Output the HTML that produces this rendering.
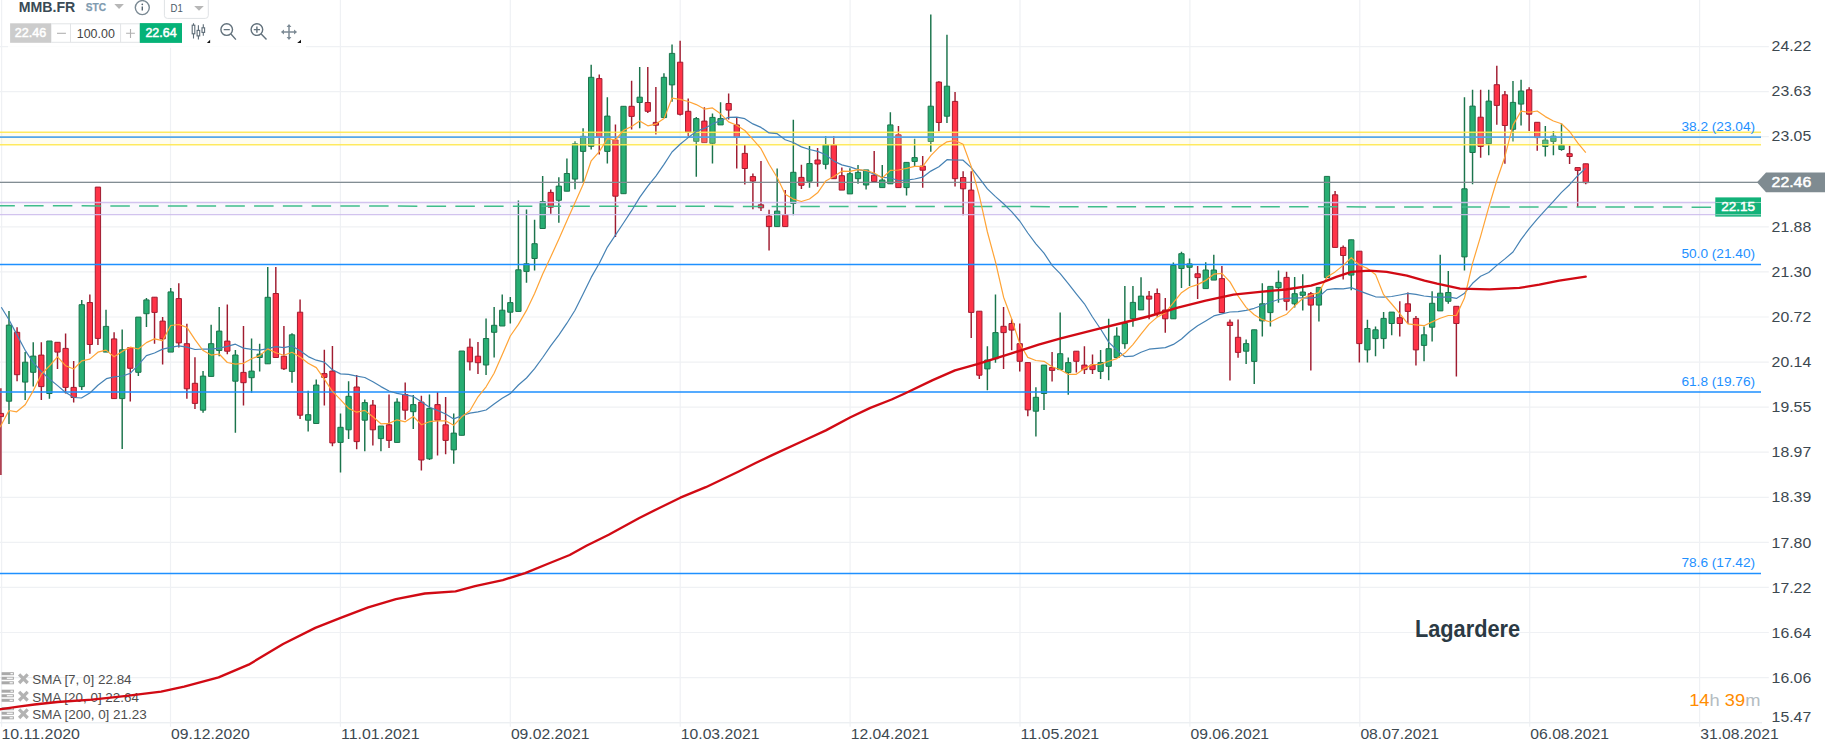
<!DOCTYPE html>
<html><head><meta charset="utf-8"><title>MMB.FR Lagardere chart</title>
<style>html,body{margin:0;padding:0;background:#fff;overflow:hidden}svg{display:block}</style></head>
<body>
<svg width="1825" height="754" viewBox="0 0 1825 754" font-family="'Liberation Sans', Arial, sans-serif">
<rect width="1825" height="754" fill="#fff"/>
<path d="M0 46.6H1768.8 M0 91.7H1768.8 M0 136.7H1768.8 M0 181.8H1768.8 M0 226.9H1768.8 M0 271.9H1768.8 M0 317.0H1768.8 M0 362.1H1768.8 M0 407.2H1768.8 M0 452.2H1768.8 M0 497.3H1768.8 M0 542.4H1768.8 M0 587.4H1768.8 M0 632.5H1768.8 M0 677.6H1768.8 M0 722.6H1762 M1.6 0V726.7 M170.5 0V726.7 M340.4 0V726.7 M510.3 0V726.7 M680.2 0V726.7 M850.1 0V726.7 M1020.0 0V726.7 M1189.9 0V726.7 M1359.8 0V726.7 M1529.7 0V726.7 M1699.6 0V726.7" stroke="#eff1f4" stroke-width="1.2" fill="none"/>
<path d="M0 722.65H1762" stroke="#eceff2" stroke-width="1.3"/>
<rect x="1.6" y="672.20" width="12.3" height="3" fill="#a9a9a9"/>
<rect x="10.5" y="673.10" width="2.4" height="1.2" fill="#fff"/>
<rect x="1.6" y="676.75" width="12.3" height="3" fill="#a9a9a9"/>
<rect x="6.8" y="677.65" width="6.0" height="1.2" fill="#fff"/>
<rect x="1.6" y="681.30" width="12.3" height="3" fill="#a9a9a9"/>
<rect x="9.6" y="682.20" width="3.2" height="1.2" fill="#fff"/>
<path d="M19.099999999999998 674.4000000000001L27.7 683.0M27.7 674.4000000000001L19.099999999999998 683.0" stroke="#b3b3b3" stroke-width="3.2" fill="none"/>
<text x="32.3" y="684" font-size="12.4" fill="#4d4d4d" textLength="99.3" lengthAdjust="spacingAndGlyphs">SMA [7, 0] 22.84</text>
<rect x="1.6" y="689.70" width="12.3" height="3" fill="#a9a9a9"/>
<rect x="10.5" y="690.60" width="2.4" height="1.2" fill="#fff"/>
<rect x="1.6" y="694.25" width="12.3" height="3" fill="#a9a9a9"/>
<rect x="6.8" y="695.15" width="6.0" height="1.2" fill="#fff"/>
<rect x="1.6" y="698.80" width="12.3" height="3" fill="#a9a9a9"/>
<rect x="9.6" y="699.70" width="3.2" height="1.2" fill="#fff"/>
<path d="M19.099999999999998 691.9000000000001L27.7 700.5M27.7 691.9000000000001L19.099999999999998 700.5" stroke="#b3b3b3" stroke-width="3.2" fill="none"/>
<text x="32.3" y="701.5" font-size="12.4" fill="#4d4d4d" textLength="106.6" lengthAdjust="spacingAndGlyphs">SMA [20, 0] 22.64</text>
<rect x="1.6" y="707.20" width="12.3" height="3" fill="#a9a9a9"/>
<rect x="10.5" y="708.10" width="2.4" height="1.2" fill="#fff"/>
<rect x="1.6" y="711.75" width="12.3" height="3" fill="#a9a9a9"/>
<rect x="6.8" y="712.65" width="6.0" height="1.2" fill="#fff"/>
<rect x="1.6" y="716.30" width="12.3" height="3" fill="#a9a9a9"/>
<rect x="9.6" y="717.20" width="3.2" height="1.2" fill="#fff"/>
<path d="M19.099999999999998 709.4000000000001L27.7 718.0M27.7 709.4000000000001L19.099999999999998 718.0" stroke="#b3b3b3" stroke-width="3.2" fill="none"/>
<text x="32.3" y="719" font-size="12.4" fill="#4d4d4d" textLength="114.5" lengthAdjust="spacingAndGlyphs">SMA [200, 0] 21.23</text>
<path d="M8.99 311.0V424.0M25.16 352.1V399.9M33.24 342.3V386.6M49.42 341.0V398.8M81.76 299.9V390.1M106.02 309.7V352.1M122.19 329.6V449.0M138.36 317.1V376.0M146.45 298.0V327.0M170.71 288.0V352.1M203.05 371.1V412.7M211.14 324.8V376.4M219.22 307.1V356.2M235.39 349.9V432.8M251.57 338.4V392.8M259.65 343.7V371.4M267.74 267.1V363.8M292.00 333.3V382.7M308.17 390.8V431.6M316.25 379.4V423.5M340.51 413.4V472.6M348.60 381.2V439.1M364.77 399.6V451.2M380.94 426.0V451.2M397.11 398.3V442.4M413.29 395.0V429.0M429.46 394.5V460.0M453.72 413.4V463.8M461.80 351.0V435.3M486.06 318.5V375.0M494.15 307.1V357.5M502.23 294.5V326.0M510.32 297.1V323.5M518.40 200.6V311.4M526.49 209.6V282.7M534.58 219.7V270.6M542.66 176.1V228.5M558.83 177.3V222.7M566.92 158.4V191.2M575.01 141.3V189.2M583.09 128.2V182.4M591.18 64.7V149.6M607.35 97.2V163.5M623.52 106.3V193.7M639.69 67.0V128.2M663.95 73.3V117.6M672.04 44.6V101.8M696.30 116.9V176.8M712.47 113.6V163.5M720.55 102.3V124.9M777.16 168.6V226.6M793.33 119.7V215.2M809.50 145.9V187.8M825.67 136.0V169.3M849.93 168.2V193.9M858.02 164.9V183.8M866.10 169.9V189.6M882.27 164.9V187.6M890.36 112.3V183.8M906.53 162.4V195.4M914.62 138.7V166.9M930.79 14.5V151.8M946.96 34.8V123.1M987.39 346.2V390.3M995.48 294.5V362.8M1035.91 387.2V436.4M1043.99 365.1V409.9M1060.17 312.4V369.6M1068.25 357.5V394.8M1100.60 350.0V378.9M1108.68 318.7V380.2M1116.77 327.3V357.5M1124.85 286.0V348.7M1132.94 286.0V326.8M1141.03 277.2V309.9M1173.37 262.5V318.8M1181.46 251.7V288.0M1189.54 258.4V286.0M1205.71 262.2V288.6M1213.80 254.7V280.1M1246.14 339.6V364.0M1254.23 329.8V384.1M1262.32 283.2V336.6M1270.40 286.4V326.5M1278.49 270.6V302.8M1294.66 276.9V307.6M1302.75 274.3V310.4M1318.92 287.4V321.4M1327.00 176.4V277.6M1351.26 239.8V290.2M1367.43 319.7V362.5M1375.52 326.5V356.2M1383.61 312.1V348.7M1391.69 312.1V335.3M1424.04 326.5V361.2M1432.12 291.2V341.6M1440.21 254.7V310.9M1448.29 271.1V303.8M1464.47 97.3V270.4M1472.55 89.8V184.2M1488.72 89.8V155.3M1512.98 80.9V141.4M1521.07 79.7V125.5M1545.33 126.0V156.5M1553.41 131.1V155.3M1561.50 123.5V150.7" stroke="#1b744c" stroke-width="1.45" fill="none"/>
<path d="M0.90 388.2V475.0M17.07 327.2V381.3M41.33 342.3V399.9M57.50 342.3V368.9M65.59 333.6V393.5M73.67 360.9V402.5M89.85 294.6V353.7M97.93 187.1V345.0M114.10 332.3V398.6M130.28 347.6V401.5M154.53 297.2V343.7M162.62 317.1V364.4M178.79 283.2V347.6M186.88 323.8V398.8M194.96 357.2V409.0M227.31 304.6V354.2M243.48 326.0V405.4M275.82 267.1V357.5M283.91 326.0V370.1M300.08 299.6V419.0M324.34 349.7V405.4M332.43 345.9V446.2M356.68 374.9V449.2M372.86 400.1V445.4M389.03 394.5V447.9M405.20 382.4V419.7M421.37 395.8V470.6M437.54 392.0V455.5M445.63 397.1V454.2M469.89 338.4V370.6M477.97 342.0V374.1M550.75 189.4V213.8M599.26 74.5V154.6M615.44 124.4V237.1M631.61 80.8V129.5M647.78 67.0V113.1M655.87 87.1V134.5M680.12 40.8V115.6M688.21 98.5V136.3M704.38 107.3V142.6M728.64 93.4V119.4M736.73 118.1V168.5M744.81 145.1V184.4M752.90 173.5V209.3M760.98 161.0V211.1M769.07 209.7V250.5M785.24 190.0V226.6M801.41 164.8V189.0M817.59 148.0V186.8M833.76 135.9V178.7M841.84 167.4V190.1M874.19 151.0V181.5M898.45 126.0V187.6M922.70 156.1V187.8M938.88 81.2V131.2M955.05 92.1V186.5M963.13 171.2V215.3M971.22 171.2V338.1M979.31 311.2V378.9M1003.56 307.1V368.9M1011.65 319.2V350.2M1019.74 323.5V371.4M1027.82 362.6V416.2M1052.08 352.0V381.4M1076.34 351.2V372.6M1084.42 346.2V373.9M1092.51 354.5V373.9M1149.11 291.0V319.2M1157.20 288.5V316.7M1165.28 298.0V332.7M1197.63 266.1V299.0M1221.89 266.0V312.5M1229.97 319.4V380.4M1238.06 319.4V357.8M1286.57 271.8V310.4M1310.83 292.0V370.6M1335.09 191.0V247.4M1343.18 245.4V279.4M1359.35 251.2V362.5M1399.78 301.3V336.6M1407.86 292.5V324.0M1415.95 315.9V365.5M1456.38 306.3V376.4M1480.64 89.8V157.8M1496.81 65.8V124.8M1504.90 91.0V163.8M1529.15 87.2V131.1M1537.24 122.3V150.7M1569.58 145.7V164.1M1577.67 167.6V206.9M1585.76 163.8V184.2" stroke="#a01c30" stroke-width="1.45" fill="none"/>
<path d="M6.34 325.1h5.3v76.1h-5.3zM22.51 362.2h5.3v19.9h-5.3zM30.59 356.1h5.3v16.2h-5.3zM46.77 341.0h5.3v52.5h-5.3zM79.11 304.7h5.3v81.9h-5.3zM103.37 326.4h5.3v25.7h-5.3zM119.54 349.8h5.3v48.8h-5.3zM135.71 317.1h5.3v55.2h-5.3zM143.80 299.9h5.3v13.8h-5.3zM168.06 291.9h5.3v60.2h-5.3zM200.40 376.1h5.3v34.1h-5.3zM208.49 343.7h5.3v32.7h-5.3zM216.57 331.1h5.3v19.4h-5.3zM232.74 355.0h5.3v26.2h-5.3zM248.92 371.1h5.3v6.6h-5.3zM257.00 354.2h5.3v3.3h-5.3zM265.09 297.3h5.3v66.5h-5.3zM289.35 334.8h5.3v36.6h-5.3zM305.52 414.7h5.3v5.5h-5.3zM313.60 385.0h5.3v38.5h-5.3zM337.86 427.3h5.3v15.1h-5.3zM345.95 396.3h5.3v33.5h-5.3zM362.12 402.6h5.3v17.6h-5.3zM378.29 426.0h5.3v12.6h-5.3zM394.46 402.1h5.3v40.3h-5.3zM410.64 404.6h5.3v7.1h-5.3zM426.81 408.4h5.3v50.4h-5.3zM451.07 433.1h5.3v16.8h-5.3zM459.15 351.0h5.3v84.3h-5.3zM483.41 338.5h5.3v26.5h-5.3zM491.50 325.3h5.3v7.0h-5.3zM499.58 310.2h5.3v15.8h-5.3zM507.67 302.6h5.3v9.6h-5.3zM515.75 269.8h5.3v41.6h-5.3zM523.84 263.8h5.3v7.6h-5.3zM531.93 243.7h5.3v14.8h-5.3zM540.01 201.6h5.3v26.9h-5.3zM556.18 186.1h5.3v14.2h-5.3zM564.27 173.5h5.3v17.7h-5.3zM572.36 143.8h5.3v35.3h-5.3zM580.44 136.3h5.3v15.1h-5.3zM588.53 77.3h5.3v69.0h-5.3zM604.70 116.1h5.3v35.3h-5.3zM620.87 106.3h5.3v87.4h-5.3zM637.04 97.2h5.3v5.3h-5.3zM661.30 77.3h5.3v40.3h-5.3zM669.39 53.4h5.3v31.5h-5.3zM693.65 118.6h5.3v22.7h-5.3zM709.82 117.4h5.3v25.9h-5.3zM717.90 118.6h5.3v6.3h-5.3zM774.51 211.1h5.3v15.5h-5.3zM790.68 172.3h5.3v31.1h-5.3zM806.85 163.5h5.3v17.7h-5.3zM823.02 144.8h5.3v19.5h-5.3zM847.28 173.7h5.3v20.2h-5.3zM855.37 172.4h5.3v6.3h-5.3zM863.45 169.9h5.3v15.1h-5.3zM879.62 180.0h5.3v7.6h-5.3zM887.71 124.9h5.3v58.9h-5.3zM903.88 162.4h5.3v25.2h-5.3zM911.97 157.6h5.3v3.8h-5.3zM928.14 106.2h5.3v35.3h-5.3zM944.31 86.2h5.3v30.0h-5.3zM984.74 360.0h5.3v8.9h-5.3zM992.83 332.6h5.3v26.2h-5.3zM1033.26 397.3h5.3v13.9h-5.3zM1041.34 365.1h5.3v28.4h-5.3zM1057.52 353.7h5.3v15.9h-5.3zM1065.60 362.6h5.3v10.0h-5.3zM1097.95 362.6h5.3v8.8h-5.3zM1106.03 348.7h5.3v17.6h-5.3zM1114.12 336.1h5.3v21.4h-5.3zM1122.20 323.5h5.3v20.2h-5.3zM1130.29 302.4h5.3v16.3h-5.3zM1138.38 296.1h5.3v13.8h-5.3zM1170.72 265.3h5.3v53.5h-5.3zM1178.81 253.7h5.3v14.8h-5.3zM1186.89 263.9h5.3v3.4h-5.3zM1203.06 270.0h5.3v18.6h-5.3zM1211.15 270.0h5.3v10.1h-5.3zM1243.49 343.6h5.3v7.6h-5.3zM1251.58 329.8h5.3v31.6h-5.3zM1259.67 303.8h5.3v17.1h-5.3zM1267.75 286.4h5.3v26.2h-5.3zM1275.84 282.4h5.3v5.3h-5.3zM1292.01 293.7h5.3v10.1h-5.3zM1300.10 292.0h5.3v3.3h-5.3zM1316.27 287.4h5.3v17.7h-5.3zM1324.35 176.4h5.3v101.2h-5.3zM1348.61 239.8h5.3v35.3h-5.3zM1364.78 328.5h5.3v21.4h-5.3zM1372.87 329.8h5.3v8.8h-5.3zM1380.96 318.4h5.3v20.2h-5.3zM1389.04 312.1h5.3v11.4h-5.3zM1421.39 334.8h5.3v10.6h-5.3zM1429.47 303.3h5.3v23.9h-5.3zM1437.56 293.2h5.3v17.7h-5.3zM1445.64 292.5h5.3v8.8h-5.3zM1461.82 188.8h5.3v68.1h-5.3zM1469.90 106.1h5.3v46.4h-5.3zM1486.07 101.1h5.3v42.6h-5.3zM1510.33 102.4h5.3v26.9h-5.3zM1518.42 91.0h5.3v13.1h-5.3zM1542.68 140.1h5.3v6.3h-5.3zM1550.76 136.1h5.3v5.3h-5.3zM1558.85 145.2h5.3v4.3h-5.3z" stroke="#1b744c" stroke-width="1" fill="#27ae73"/>
<path d="M-1.75 413.4h5.3v3.2h-5.3zM14.42 332.3h5.3v42.4h-5.3zM38.68 355.1h5.3v31.5h-5.3zM54.85 342.3h5.3v9.8h-5.3zM62.94 348.4h5.3v39.0h-5.3zM71.02 387.4h5.3v10.1h-5.3zM87.20 302.5h5.3v42.0h-5.3zM95.28 187.1h5.3v151.3h-5.3zM111.45 338.9h5.3v59.7h-5.3zM127.63 347.6h5.3v20.7h-5.3zM151.88 297.2h5.3v15.2h-5.3zM159.97 321.1h5.3v17.8h-5.3zM176.14 298.6h5.3v44.3h-5.3zM184.23 343.7h5.3v45.1h-5.3zM192.31 383.3h5.3v20.1h-5.3zM224.66 341.1h5.3v10.1h-5.3zM240.83 372.4h5.3v10.3h-5.3zM273.17 293.5h5.3v64.0h-5.3zM281.26 356.2h5.3v12.6h-5.3zM297.43 312.2h5.3v103.0h-5.3zM321.69 373.6h5.3v3.8h-5.3zM329.78 371.1h5.3v71.8h-5.3zM354.03 387.0h5.3v54.6h-5.3zM370.21 405.1h5.3v24.7h-5.3zM386.38 424.8h5.3v15.6h-5.3zM402.55 394.5h5.3v15.7h-5.3zM418.72 402.1h5.3v57.9h-5.3zM434.89 404.6h5.3v15.6h-5.3zM442.98 424.8h5.3v15.6h-5.3zM467.24 347.2h5.3v14.6h-5.3zM475.32 356.2h5.3v6.5h-5.3zM548.10 192.4h5.3v14.8h-5.3zM596.61 78.6h5.3v58.4h-5.3zM612.79 140.0h5.3v56.2h-5.3zM628.96 106.3h5.3v10.1h-5.3zM645.13 102.5h5.3v8.8h-5.3zM653.22 122.4h5.3v2.8h-5.3zM677.47 62.2h5.3v52.1h-5.3zM685.56 111.3h5.3v20.7h-5.3zM701.73 121.1h5.3v21.5h-5.3zM725.99 103.5h5.3v6.6h-5.3zM734.08 124.9h5.3v12.6h-5.3zM742.16 153.4h5.3v15.1h-5.3zM750.25 176.6h5.3v4.5h-5.3zM758.33 204.8h5.3v3.0h-5.3zM766.42 216.0h5.3v10.6h-5.3zM782.59 214.8h5.3v11.8h-5.3zM798.76 177.4h5.3v7.9h-5.3zM814.94 160.0h5.3v4.0h-5.3zM831.11 145.0h5.3v33.7h-5.3zM839.19 175.7h5.3v14.4h-5.3zM871.54 175.2h5.3v6.3h-5.3zM895.80 134.8h5.3v52.8h-5.3zM920.05 166.1h5.3v4.1h-5.3zM936.23 82.1h5.3v40.4h-5.3zM952.40 101.4h5.3v77.3h-5.3zM960.48 177.5h5.3v11.3h-5.3zM968.57 190.1h5.3v122.3h-5.3zM976.66 311.2h5.3v64.0h-5.3zM1000.91 326.3h5.3v6.3h-5.3zM1009.00 323.5h5.3v6.6h-5.3zM1017.09 343.7h5.3v17.6h-5.3zM1025.17 362.6h5.3v47.3h-5.3zM1049.43 367.6h5.3v2.8h-5.3zM1073.69 351.2h5.3v10.1h-5.3zM1081.77 365.1h5.3v4.5h-5.3zM1089.86 365.1h5.3v4.5h-5.3zM1146.46 296.1h5.3v3.0h-5.3zM1154.55 293.5h5.3v20.2h-5.3zM1162.63 310.0h5.3v8.8h-5.3zM1194.98 273.8h5.3v3.8h-5.3zM1219.24 278.6h5.3v33.9h-5.3zM1227.32 322.2h5.3v3.3h-5.3zM1235.41 337.3h5.3v15.1h-5.3zM1283.92 277.4h5.3v23.9h-5.3zM1308.18 293.7h5.3v11.4h-5.3zM1332.44 194.8h5.3v52.6h-5.3zM1340.53 247.4h5.3v8.1h-5.3zM1356.70 251.2h5.3v92.4h-5.3zM1397.13 317.7h5.3v5.8h-5.3zM1405.21 303.8h5.3v7.6h-5.3zM1413.30 318.4h5.3v31.5h-5.3zM1453.73 306.3h5.3v17.2h-5.3zM1477.99 117.2h5.3v29.2h-5.3zM1494.16 84.7h5.3v20.7h-5.3zM1502.25 94.8h5.3v30.7h-5.3zM1526.50 89.8h5.3v24.4h-5.3zM1534.59 122.3h5.3v15.3h-5.3zM1566.93 153.7h5.3v2.8h-5.3zM1575.02 167.6h5.3v2.8h-5.3zM1583.11 163.8h5.3v18.9h-5.3z" stroke="#a01c30" stroke-width="1" fill="#ff3347"/>
<rect x="0" y="132.2" width="1761" height="12.5" fill="#fff6b0" fill-opacity="0.22"/>
<path d="M0 132.2H1761M0 144.7H1761" stroke="#ffe84f" stroke-width="1.5" stroke-opacity="0.9"/>
<path d="M0 137.1H1761" stroke="#4ea3ea" stroke-width="1.7" stroke-opacity="0.95"/>
<rect x="0" y="202.5" width="1761" height="12.2" fill="#9678dc" fill-opacity="0.055"/>
<path d="M0 202.5H1761M0 214.7H1761" stroke="#cdbdec" stroke-width="1.3" stroke-opacity="0.9"/>
<path d="M0 264.5H1761M0 392H1761M0 573.4H1761" stroke="#1e90ff" stroke-width="1.5"/>
<path d="M0 182.3H1760" stroke="#828d93" stroke-width="1.15"/>
<path d="M-4.65 205.8L1716 207.15" stroke="#3fbd8c" stroke-width="1.5" stroke-dasharray="19.5 9.25" fill="none"/>
<path d="M1.3 307.3L9.0 319.8L16.7 334.4L25.2 350.3L32.9 362.2L41.4 371.5L49.1 378.7L57.6 385.6L65.3 392.2L74.0 397.5L81.4 398.0L90.2 392.7L97.9 385.3L106.4 378.7L114.1 376.8L122.5 376.0L130.2 373.4L137.9 365.4L146.4 355.6L154.5 353.0L162.6 349.1L170.7 347.4L178.8 345.8L186.9 347.2L195.0 349.5L203.1 349.0L211.1 349.1L219.2 348.1L227.3 346.3L235.4 344.2L243.5 348.1L251.6 349.4L259.7 350.2L267.7 348.7L275.8 346.7L283.9 347.6L292.0 345.9L300.1 350.8L308.2 356.6L316.3 360.2L324.3 362.1L332.4 369.7L340.5 373.9L348.6 374.3L356.7 376.2L364.8 377.5L372.9 381.8L380.9 386.6L389.0 391.0L397.1 393.4L405.2 394.8L413.3 396.4L421.4 401.7L429.5 407.3L437.5 410.4L445.6 414.0L453.7 418.9L461.8 415.7L469.9 413.1L478.0 411.9L486.1 410.0L494.1 404.1L502.2 398.3L510.3 393.6L518.4 385.0L526.5 378.0L534.6 368.7L542.7 357.5L550.7 345.9L558.8 335.1L566.9 323.2L575.0 310.2L583.1 294.0L591.2 277.4L599.3 263.3L607.4 247.1L615.4 235.2L623.5 223.0L631.6 210.7L639.7 197.4L647.8 186.1L655.9 176.1L664.0 164.4L672.0 152.0L680.1 144.2L688.2 137.6L696.3 131.4L704.4 128.4L712.5 123.9L720.6 120.5L728.6 117.4L736.7 117.1L744.8 118.7L752.9 123.9L761.0 127.4L769.1 132.9L777.2 133.7L785.2 139.7L793.3 142.5L801.4 146.9L809.5 149.5L817.6 151.4L825.7 154.8L833.8 161.1L841.8 164.9L849.9 166.9L858.0 169.6L866.1 171.0L874.2 174.2L882.3 177.3L890.4 178.0L898.4 180.5L906.5 180.2L914.6 179.0L922.7 177.2L930.8 171.1L938.9 166.7L947.0 159.7L955.0 160.0L963.1 160.2L971.2 167.6L979.3 178.2L987.4 188.9L995.5 196.6L1003.6 203.8L1011.6 211.6L1019.7 221.0L1027.8 233.0L1035.9 243.8L1044.0 253.1L1052.1 265.4L1060.2 273.7L1068.3 283.7L1076.3 293.9L1084.4 303.8L1092.5 317.0L1100.6 329.0L1108.7 342.1L1116.8 350.0L1124.9 356.7L1132.9 356.2L1141.0 352.3L1149.1 349.2L1157.2 348.3L1165.3 347.6L1173.4 344.4L1181.5 339.0L1189.5 331.7L1197.6 325.7L1205.7 320.9L1213.8 315.9L1221.9 313.9L1230.0 312.0L1238.1 311.6L1246.1 310.3L1254.2 308.3L1262.3 305.3L1270.4 302.2L1278.5 299.5L1286.6 298.4L1294.7 298.0L1302.7 297.8L1310.8 298.1L1318.9 296.8L1327.0 289.6L1335.1 288.7L1343.2 288.8L1351.3 287.6L1359.3 290.9L1367.4 293.9L1375.5 296.8L1383.6 297.1L1391.7 296.5L1399.8 295.0L1407.9 293.4L1416.0 294.4L1424.0 296.0L1432.1 296.8L1440.2 297.4L1448.3 296.9L1456.4 298.4L1464.5 293.2L1472.6 283.3L1480.6 276.2L1488.7 272.5L1496.8 265.4L1504.9 258.9L1513.0 252.0L1521.1 239.4L1529.2 228.7L1537.2 219.1L1545.3 210.1L1553.4 201.3L1561.5 192.4L1569.6 184.7L1577.7 175.7L1585.8 168.1" stroke="#4682b4" stroke-width="1.2" fill="none" stroke-linejoin="round"/>
<path d="M0.0 427.2L9.0 410.5L16.7 411.8L25.2 404.7L32.9 391.4L41.4 374.2L49.4 366.0L57.5 356.8L65.6 365.7L73.7 369.0L81.8 360.8L89.8 359.1L97.9 352.2L106.0 350.1L114.1 356.8L122.2 351.4L130.3 347.2L138.4 349.0L146.4 342.6L154.5 338.9L162.6 340.7L170.7 325.5L178.8 324.5L186.9 327.4L195.0 339.7L203.1 350.6L211.1 355.1L219.2 354.0L227.3 362.5L235.4 364.2L243.5 363.3L251.6 358.7L259.7 355.6L267.7 348.9L275.8 352.7L283.9 355.2L292.0 352.3L300.1 357.0L308.2 363.2L316.3 367.6L324.3 379.1L332.4 391.3L340.5 399.6L348.6 408.4L356.7 412.2L364.8 410.4L372.9 416.8L380.9 423.8L389.0 423.4L397.1 419.8L405.2 421.8L413.3 416.5L421.4 424.7L429.5 421.7L437.5 420.8L445.6 420.8L453.7 425.3L461.8 416.8L469.9 410.7L478.0 396.8L486.1 386.8L494.1 373.3L502.2 354.7L510.3 336.0L518.4 324.4L526.5 310.4L534.6 293.4L542.7 273.9L550.7 257.0L558.8 239.3L566.9 220.8L575.0 202.8L583.1 184.6L591.2 160.8L599.3 151.6L607.4 138.6L615.4 140.0L623.5 130.4L631.6 126.5L639.7 120.9L647.8 125.8L655.9 124.1L664.0 118.6L672.0 98.2L680.1 99.3L688.2 101.5L696.3 104.6L704.4 109.1L712.5 107.9L720.6 113.8L728.6 121.9L736.7 125.3L744.8 130.5L752.9 139.4L761.0 148.7L769.1 164.3L777.2 177.5L785.2 194.2L793.3 199.1L801.4 201.5L809.5 199.0L817.6 192.8L825.7 181.1L833.8 176.5L841.8 171.2L849.9 171.4L858.0 169.6L866.1 170.5L874.2 173.0L882.3 178.0L890.4 170.4L898.4 170.0L906.5 168.4L914.6 166.3L922.7 166.3L930.8 155.6L938.9 147.3L947.0 141.8L955.0 140.5L963.1 144.3L971.2 166.4L979.3 195.7L987.4 232.0L995.5 262.0L1003.6 297.2L1011.6 318.8L1019.7 343.5L1027.8 357.4L1035.9 360.5L1044.0 361.3L1052.1 366.7L1060.2 369.7L1068.3 374.3L1076.3 374.3L1084.4 368.6L1092.5 364.6L1100.6 364.3L1108.7 361.2L1116.8 358.6L1124.9 353.1L1132.9 344.6L1141.0 334.1L1149.1 324.1L1157.2 317.1L1165.3 312.8L1173.4 302.7L1181.5 292.7L1189.5 287.2L1197.6 284.6L1205.7 280.4L1213.8 274.2L1221.9 273.3L1230.0 281.9L1238.1 296.0L1246.1 307.4L1254.2 314.8L1262.3 319.7L1270.4 322.0L1278.5 317.7L1286.6 314.2L1294.7 305.9L1302.7 298.5L1310.8 295.0L1318.9 292.6L1327.0 276.9L1335.1 271.9L1343.2 265.4L1351.3 257.7L1359.3 265.0L1367.4 268.4L1375.5 274.4L1383.6 294.7L1391.7 304.0L1399.8 313.7L1407.9 323.9L1416.0 324.8L1424.0 325.7L1432.1 321.9L1440.2 318.3L1448.3 315.5L1456.4 315.5L1464.5 298.0L1472.6 263.2L1480.6 236.3L1488.7 207.4L1496.8 180.5L1504.9 156.7L1513.0 125.1L1521.1 111.1L1529.2 112.3L1537.2 111.0L1545.3 116.6L1553.4 121.0L1561.5 123.8L1569.6 131.5L1577.7 142.9L1585.8 152.7" stroke="#ffa436" stroke-width="1.2" fill="none" stroke-linejoin="round"/>
<path d="M-2.0 709.6L1.2 709.1L18.4 706.6L34.5 704.5L57.5 702.0L92.1 699.7L126.6 695.8L161.1 691.6L184.1 686.6L218.6 677.4L248.6 664.7L283.1 644.0L315.3 627.9L340.6 617.8L368.2 607.4L395.9 599.2L424.8 593.5L455.5 591.3L475.0 586.2L502.8 580.1L525.1 573.1L547.4 564.0L569.7 555.0L586.4 545.8L608.7 534.7L639.3 518.0L658.8 508.2L680.3 497.7L705.8 487.2L738.7 471.5L755.1 463.3L771.6 455.4L804.5 440.3L825.9 430.4L850.5 417.3L870.3 407.9L891.6 399.5L904.8 393.5L932.7 380.1L955.0 370.3L977.3 364.2L1010.7 353.6L1038.6 344.7L1060.8 338.3L1094.3 329.9L1122.1 323.0L1150.0 316.0L1177.8 307.7L1205.7 300.7L1233.5 294.6L1260.0 291.8L1285.9 289.5L1311.1 285.7L1323.7 281.9L1336.3 276.9L1351.4 271.8L1369.1 270.6L1386.7 271.8L1406.9 275.6L1424.5 280.6L1437.1 283.7L1460.0 288.7L1489.6 289.3L1519.4 287.9L1539.3 284.7L1559.2 280.7L1585.7 276.6" stroke="#d10a14" stroke-width="2.35" fill="none" stroke-linejoin="round" stroke-linecap="round"/>
<text x="1681.4" y="130.6" font-size="12.3" fill="#1e90ff" textLength="73.7" lengthAdjust="spacingAndGlyphs">38.2 (23.04)</text>
<text x="1681.4" y="258.0" font-size="12.3" fill="#1e90ff" textLength="73.7" lengthAdjust="spacingAndGlyphs">50.0 (21.40)</text>
<text x="1681.4" y="385.8" font-size="12.3" fill="#1e90ff" textLength="73.7" lengthAdjust="spacingAndGlyphs">61.8 (19.76)</text>
<text x="1681.4" y="567.0" font-size="12.3" fill="#1e90ff" textLength="73.7" lengthAdjust="spacingAndGlyphs">78.6 (17.42)</text>
<rect x="1715.3" y="197.4" width="45.7" height="19.2" fill="#12b279"/>
<path d="M1715.3 202.5H1761M1715.3 214.7H1761" stroke="#8fd3bd" stroke-width="1"/>
<text x="1721.2" y="211.4" font-size="12" fill="#fff" textLength="33.8" lengthAdjust="spacingAndGlyphs" stroke="#fff" stroke-width="0.45">22.15</text>
<path d="M1757 182.3L1766 172.4H1825V192.2H1766Z" fill="#7f8b91"/>
<text x="1771.6" y="187.3" font-size="14" fill="#fff" textLength="39.6" lengthAdjust="spacingAndGlyphs" stroke="#fff" stroke-width="0.5">22.46</text>
<text x="1771.6" y="50.9" font-size="15" fill="#3c4850" textLength="39.6" lengthAdjust="spacingAndGlyphs">24.22</text>
<text x="1771.6" y="96.0" font-size="15" fill="#3c4850" textLength="39.6" lengthAdjust="spacingAndGlyphs">23.63</text>
<text x="1771.6" y="141.2" font-size="15" fill="#3c4850" textLength="39.6" lengthAdjust="spacingAndGlyphs">23.05</text>
<text x="1771.6" y="231.5" font-size="15" fill="#3c4850" textLength="39.6" lengthAdjust="spacingAndGlyphs">21.88</text>
<text x="1771.6" y="276.6" font-size="15" fill="#3c4850" textLength="39.6" lengthAdjust="spacingAndGlyphs">21.30</text>
<text x="1771.6" y="321.8" font-size="15" fill="#3c4850" textLength="39.6" lengthAdjust="spacingAndGlyphs">20.72</text>
<text x="1771.6" y="366.9" font-size="15" fill="#3c4850" textLength="39.6" lengthAdjust="spacingAndGlyphs">20.14</text>
<text x="1771.6" y="412.1" font-size="15" fill="#3c4850" textLength="39.6" lengthAdjust="spacingAndGlyphs">19.55</text>
<text x="1771.6" y="457.2" font-size="15" fill="#3c4850" textLength="39.6" lengthAdjust="spacingAndGlyphs">18.97</text>
<text x="1771.6" y="502.4" font-size="15" fill="#3c4850" textLength="39.6" lengthAdjust="spacingAndGlyphs">18.39</text>
<text x="1771.6" y="547.5" font-size="15" fill="#3c4850" textLength="39.6" lengthAdjust="spacingAndGlyphs">17.80</text>
<text x="1771.6" y="592.7" font-size="15" fill="#3c4850" textLength="39.6" lengthAdjust="spacingAndGlyphs">17.22</text>
<text x="1771.6" y="637.8" font-size="15" fill="#3c4850" textLength="39.6" lengthAdjust="spacingAndGlyphs">16.64</text>
<text x="1771.6" y="683.0" font-size="15" fill="#3c4850" textLength="39.6" lengthAdjust="spacingAndGlyphs">16.06</text>
<text x="1771.6" y="722.1" font-size="15" fill="#3c4850" textLength="39.6" lengthAdjust="spacingAndGlyphs">15.47</text>
<text x="1.4" y="738.9" font-size="15" fill="#3c4850" textLength="78.6" lengthAdjust="spacingAndGlyphs">10.11.2020</text>
<text x="171.1" y="738.9" font-size="15" fill="#3c4850" textLength="78.6" lengthAdjust="spacingAndGlyphs">09.12.2020</text>
<text x="341.0" y="738.9" font-size="15" fill="#3c4850" textLength="78.6" lengthAdjust="spacingAndGlyphs">11.01.2021</text>
<text x="510.9" y="738.9" font-size="15" fill="#3c4850" textLength="78.6" lengthAdjust="spacingAndGlyphs">09.02.2021</text>
<text x="680.8" y="738.9" font-size="15" fill="#3c4850" textLength="78.6" lengthAdjust="spacingAndGlyphs">10.03.2021</text>
<text x="850.7" y="738.9" font-size="15" fill="#3c4850" textLength="78.6" lengthAdjust="spacingAndGlyphs">12.04.2021</text>
<text x="1020.6" y="738.9" font-size="15" fill="#3c4850" textLength="78.6" lengthAdjust="spacingAndGlyphs">11.05.2021</text>
<text x="1190.5" y="738.9" font-size="15" fill="#3c4850" textLength="78.6" lengthAdjust="spacingAndGlyphs">09.06.2021</text>
<text x="1360.4" y="738.9" font-size="15" fill="#3c4850" textLength="78.6" lengthAdjust="spacingAndGlyphs">08.07.2021</text>
<text x="1530.3" y="738.9" font-size="15" fill="#3c4850" textLength="78.6" lengthAdjust="spacingAndGlyphs">06.08.2021</text>
<text x="1700.2" y="738.9" font-size="15" fill="#3c4850" textLength="78.6" lengthAdjust="spacingAndGlyphs">31.08.2021</text>
<text x="1414.9" y="636.8" font-size="24.3" fill="#2b3a44" font-weight="bold" textLength="105.3" lengthAdjust="spacingAndGlyphs">Lagardere</text>
<text x="1689.2" y="705.8" font-size="17" textLength="71.2" lengthAdjust="spacingAndGlyphs"><tspan fill="#ff8c00">14</tspan><tspan fill="#b4bcc1">h </tspan><tspan fill="#ff8c00">39</tspan><tspan fill="#b4bcc1">m</tspan></text>
<rect x="8" y="0" width="298" height="48" fill="#fff" fill-opacity="0.82"/>
<text x="18.7" y="12.0" font-size="14.5" fill="#3a4a55" font-weight="bold" textLength="56.6" lengthAdjust="spacingAndGlyphs">MMB.FR</text>
<text x="85.8" y="10.9" font-size="11.2" fill="#809bb0" font-weight="bold" textLength="20.3" lengthAdjust="spacingAndGlyphs" stroke="#809bb0" stroke-width="0.25">STC</text>
<path d="M114.3 4.1H123.9L119.1 8.9Z" fill="#b7b7b7"/>
<circle cx="142.3" cy="7.6" r="7.0" fill="none" stroke="#7a8993" stroke-width="1.4"/>
<path d="M142.3 6.4V10.6" stroke="#55646f" stroke-width="1.4"/><circle cx="142.3" cy="4.3" r="0.85" fill="#55646f"/>
<rect x="164.4" y="-6" width="43.9" height="24.4" rx="3" fill="#fff" stroke="#dfe2e5" stroke-width="1"/>
<text x="170.5" y="12.0" font-size="11.2" fill="#4c5c68" textLength="12.2" lengthAdjust="spacingAndGlyphs">D1</text>
<path d="M194.2 6H203.8L199 10.8Z" fill="#b7b7b7"/>
<rect x="51" y="23.8" width="89" height="18.5" fill="#fff" stroke="#e2e4e6" stroke-width="1"/>
<path d="M70.5 23.8V42.3M120.6 23.8V42.3" stroke="#e2e4e6" stroke-width="1"/>
<rect x="10.1" y="23.3" width="40.9" height="19.5" fill="#cccccc"/>
<text x="14.8" y="37.1" font-size="12.6" fill="#fff" textLength="31.5" lengthAdjust="spacingAndGlyphs" stroke="#fff" stroke-width="0.5">22.46</text>
<path d="M57 33.3H65.9" stroke="#b0b0b0" stroke-width="1.1"/>
<text x="76.8" y="37.8" font-size="12.6" fill="#444" textLength="38.0" lengthAdjust="spacingAndGlyphs">100.00</text>
<path d="M126.1 33.3H134.9M130.5 29V38" stroke="#b0b0b0" stroke-width="1.1"/>
<rect x="139.8" y="23.1" width="42.2" height="19.8" fill="#05b277"/>
<text x="145.4" y="37.1" font-size="12.6" fill="#fff" textLength="31.2" lengthAdjust="spacingAndGlyphs" stroke="#fff" stroke-width="0.5">22.64</text>
<path d="M193.5 23.2V38.5M198.4 25.3V39.6M203.3 24.3V35.7" stroke="#5d6c77" stroke-width="1.1"/>
<rect x="192.2" y="25.2" width="2.6" height="8.6" fill="#fff" stroke="#5d6c77" stroke-width="1.1"/>
<rect x="197.1" y="30.4" width="2.6" height="5.5" fill="#fff" stroke="#5d6c77" stroke-width="1.1"/>
<rect x="202" y="27.8" width="2.6" height="4.6" fill="#fff" stroke="#5d6c77" stroke-width="1.1"/>
<path d="M210.1 39.8V43H206.9Z" fill="#111"/>
<circle cx="226.7" cy="29.6" r="5.8" fill="none" stroke="#62717c" stroke-width="1.4"/><path d="M231 34L235.9 39.6M223.7 29.6H229.8" stroke="#62717c" stroke-width="1.4" fill="none"/>
<circle cx="256.9" cy="29.6" r="5.8" fill="none" stroke="#62717c" stroke-width="1.4"/><path d="M261.2 34L266.5 39.6M253.8 29.6H260M256.9 26.5V32.7" stroke="#62717c" stroke-width="1.4" fill="none"/>
<path d="M282.5 32H295.5M289 25.5V38.5" stroke="#7d8b95" stroke-width="1.5"/>
<path d="M289 23.9L291.4 27H286.6ZM289 40.1L291.4 37H286.6ZM280.9 32L284 29.6V34.4ZM297.1 32L294 29.6V34.4Z" fill="#7d8b95"/>
<path d="M301 39.8V43H297.2Z" fill="#111"/>
</svg>
</body></html>
